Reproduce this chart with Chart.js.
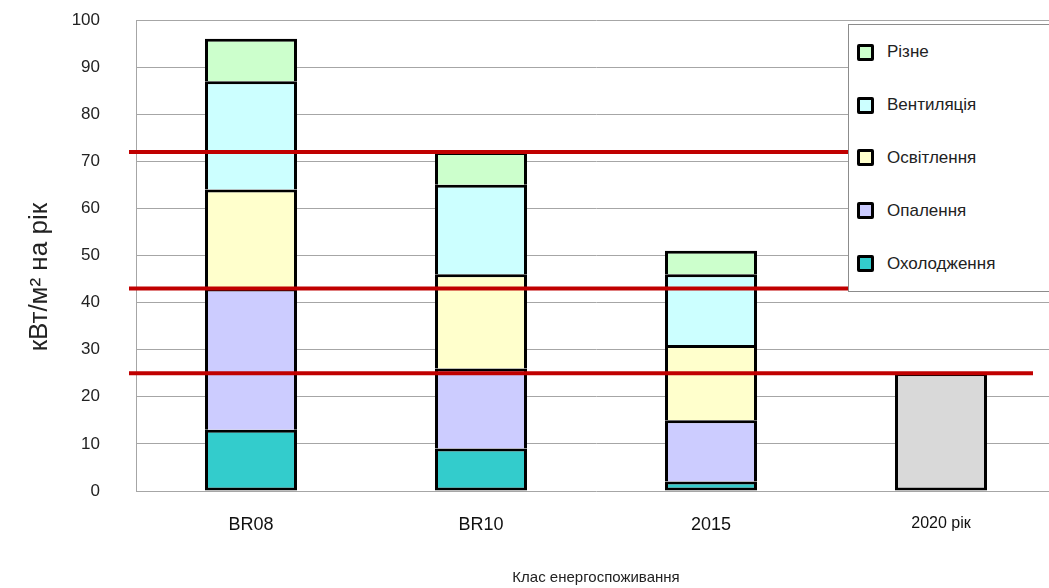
<!DOCTYPE html>
<html>
<head>
<meta charset="utf-8">
<script src="https://cdn.jsdelivr.net/npm/chart.js@4/dist/chart.umd.min.js"></script>
<style>
  html, body { margin: 0; padding: 0; background: #fff; overflow: hidden; }
  #wrap { position: relative; width: 1056px; height: 588px; }
  #legend {
    position: absolute; left: 848px; top: 24px; width: 230px; height: 268px;
    border: 1px solid #8c8c8c; background: #fff; box-sizing: border-box;
    padding-top: 1px; font-family: Arial, "Liberation Sans", sans-serif; font-size: 17px; color: #222;
  }
  #legend .item { height: 52.8px; display: flex; align-items: center; padding-left: 8px; }
  #legend .box { width: 11px; height: 11px; border: 3px solid #000; border-radius: 2px; margin-right: 13px; }
</style>
</head>
<body>
<div id="wrap">
  <canvas id="chart" width="1056" height="588"></canvas>
  <div id="legend"></div>
</div>
<script>
const categories = ['BR08', 'BR10', '2015', '2020 рік'];
const cooling = [13, 9, 2, null];      // Охолодження
const heating = [30, 17, 13, null];    // Опалення
const lighting = [21, 20, 16, null];   // Освітлення
const ventilation = [23, 19, 15, null];// Вентиляція
const misc = [9, 7, 5, null];          // Різне
const target2020 = [null, null, null, 25];
const limitLines = [72, 43, 25];

const font = 'Arial, "Liberation Sans", sans-serif';

const series = [
  { label: 'Охолодження', data: cooling, color: '#33cccc' },
  { label: 'Опалення', data: heating, color: '#ccccff' },
  { label: 'Освітлення', data: lighting, color: '#ffffcc' },
  { label: 'Вентиляція', data: ventilation, color: '#ccffff' },
  { label: 'Різне', data: misc, color: '#ccffcc' }
];

const datasets = series.map((s, i) => ({
  label: s.label,
  data: s.data,
  backgroundColor: s.color,
  borderColor: '#000',
  borderWidth: 3,
  borderSkipped: i === 0 ? false : 'start'
}));
datasets.push({
  label: '2020',
  data: target2020,
  backgroundColor: '#d9d9d9',
  borderColor: '#000',
  borderWidth: 3,
  borderSkipped: false
});

// red limit lines across the plot
const limitPlugin = {
  id: 'limits',
  afterDatasetsDraw(chart) {
    const { ctx, chartArea, scales } = chart;
    ctx.save();
    ctx.strokeStyle = '#c00000';
    ctx.lineWidth = 4;
    limitLines.forEach(v => {
      const y = scales.y.getPixelForValue(v);
      ctx.beginPath();
      ctx.moveTo(chartArea.left - 7, y);
      ctx.lineTo(chartArea.right - 23, y);
      ctx.stroke();
    });
    ctx.restore();
  }
};

new Chart(document.getElementById('chart'), {
  type: 'bar',
  data: { labels: categories, datasets: datasets },
  options: {
    responsive: false,
    animation: false,
    layout: { padding: { top: 20, left: 0, right: 0, bottom: 0 } },
    datasets: { bar: { barPercentage: 0.4, categoryPercentage: 1 } },
    plugins: { legend: { display: false }, tooltip: { enabled: false } },
    scales: {
      x: {
        stacked: true,
        grid: { display: false, drawTicks: false },
        border: { display: false },
        ticks: {
          color: '#111',
          padding: 23,
          font: (c) => ({ family: font, size: c.index === 3 ? 16 : 18 })
        },
        title: {
          display: true,
          text: 'Клас енергоспоживання',
          color: '#222',
          font: { family: font, size: 15 },
          padding: { top: 0, bottom: 1 }
        },
        afterFit: (s) => { s.height = 97; }
      },
      y: {
        stacked: true,
        min: 0,
        max: 100,
        grid: { color: '#a6a6a6', lineWidth: 1, drawTicks: false },
        border: { color: '#a6a6a6' },
        ticks: {
          stepSize: 10,
          color: '#222',
          padding: 36,
          font: { family: font, size: 17 }
        },
        title: {
          display: true,
          // trailing spaces push the rotated title a little lower, as in the original
          text: 'кВт/м² на рік\u00a0\u00a0\u00a0\u00a0\u00a0\u00a0',
          color: '#222',
          font: { family: font, size: 26 },
          padding: { top: 24, bottom: 0 }
        },
        afterFit: (s) => { s.width = 136; s.paddingTop = 0; s.paddingBottom = 0; }
      }
    }
  },
  plugins: [limitPlugin]
});

// legend inside the plot, top item first
const legend = document.getElementById('legend');
series.slice().reverse().forEach(s => {
  const item = document.createElement('div');
  item.className = 'item';
  const box = document.createElement('span');
  box.className = 'box';
  box.style.background = s.color;
  const txt = document.createElement('span');
  txt.textContent = s.label;
  item.appendChild(box);
  item.appendChild(txt);
  legend.appendChild(item);
});
</script>
</body>
</html>
